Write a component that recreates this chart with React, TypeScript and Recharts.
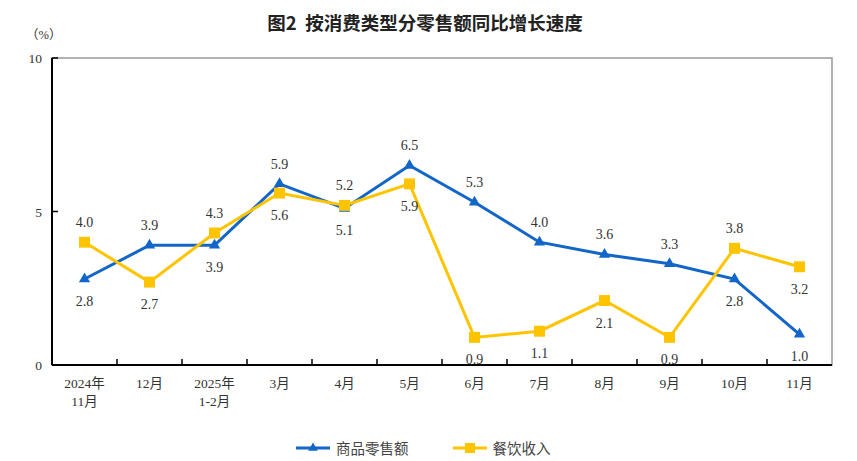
import { LineChart, Line, XAxis, YAxis, ReferenceArea, LabelList, Symbols } from "recharts";

const months = ["2024年\n11月", "12月", "2025年\n1-2月", "3月", "4月", "5月", "6月", "7月", "8月", "9月", "10月", "11月"];
const goods = [2.8, 3.9, 3.9, 5.9, 5.1, 6.5, 5.3, 4.0, 3.6, 3.3, 2.8, 1.0];
const catering = [4.0, 2.7, 4.3, 5.6, 5.2, 5.9, 0.9, 1.1, 2.1, 0.9, 3.8, 3.2];
const yTicks = [0, 5, 10];

const BLUE = "#1266c8";
const YELLOW = "#ffc400";
const SERIF = "'Liberation Serif', 'Times New Roman', 'Noto Sans CJK SC', serif";
const TEXT = "#333";

const data = months.map((m, i) => ({ month: m, goods: goods[i], catering: catering[i] }));

function XTick(props: any) {
  const { x, y, payload, width, visibleTicksCount } = props;
  const lines = String(payload.value).split("\n");
  const last = payload.index === months.length - 1;
  const half = Number(width) / Number(visibleTicksCount || months.length) / 2;
  return (
    <g>
      {!last && Number.isFinite(half) && (
        <line x1={x + half} x2={x + half} y1={y} y2={y - 6} stroke="#000" strokeWidth={1.5} />
      )}
      {lines.map((l, k) => (
        <text key={k} x={x} y={y + 23 + k * 18} textAnchor="middle" fontSize={13.5} fontFamily={SERIF} fill={TEXT}>
          {l}
        </text>
      ))}
    </g>
  );
}

function YTick(props: any) {
  const { x, y, payload } = props;
  return (
    <g>
      <line x1={x} x2={x + 6} y1={y} y2={y} stroke="#000" strokeWidth={1.5} />
      <text x={x - 10} y={y + 5} textAnchor="end" fontSize={13.5} fontFamily={SERIF} fill={TEXT}>
        {payload.value}
      </text>
    </g>
  );
}

function makeLabel(own: number[], other: number[]) {
  return (props: any) => {
    const { x, y, index, value } = props;
    const last = index === own.length - 1;
    const above = !last && own[index] >= other[index];
    return (
      <text
        x={x}
        y={above ? y - 15 : y + 27}
        textAnchor="middle"
        fontSize={14}
        fontFamily={SERIF}
        fill={TEXT}
      >
        {Number(value).toFixed(1)}
      </text>
    );
  };
}

const triDot = (p: any) => <Symbols key={p.index} cx={p.cx} cy={p.cy} type="triangle" size={55} fill={BLUE} />;
const sqDot = (p: any) => <Symbols key={p.index} cx={p.cx} cy={p.cy} type="square" size={120} fill={YELLOW} />;

export default function App() {
  return (
    <div style={{ position: "absolute", left: 0, top: 0, width: 857, height: 461, background: "#fff" }}>
      <div
        style={{
          position: "absolute",
          top: 9,
          left: 0,
          width: 850,
          textAlign: "center",
          fontFamily: "'Noto Sans CJK SC', sans-serif",
          fontWeight: 700,
          fontSize: 18.5,
          color: "#222",
          whiteSpace: "pre",
        }}
      >
        {"图2  按消费类型分零售额同比增长速度"}
      </div>
      <div style={{ position: "absolute", top: 24, left: 26, fontFamily: SERIF, fontSize: 12.5, color: TEXT }}>（%）</div>
      <LineChart width={857} height={461} data={data} margin={{ top: 58, right: 25, left: 12, bottom: 36 }}>
        <ReferenceArea y1={0} y2={10} fill="none" stroke="#999" strokeWidth={1.5} ifOverflow="visible" />
        <XAxis
          dataKey="month"
          scale="band"
          interval={0}
          height={60}
          tickLine={false}
          tickSize={0}
          tickMargin={0}
          axisLine={{ stroke: "#000", strokeWidth: 2 }}
          tick={<XTick />}
        />
        <YAxis
          domain={[0, 10]}
          ticks={yTicks}
          width={40}
          tickLine={false}
          tickSize={0}
          tickMargin={0}
          axisLine={{ stroke: "#000", strokeWidth: 2 }}
          tick={<YTick />}
        />
        <Line
          dataKey="goods"
          stroke={BLUE}
          strokeWidth={3}
          dot={triDot}
          activeDot={false}
          isAnimationActive={false}
        >
          <LabelList dataKey="goods" content={makeLabel(goods, catering)} />
        </Line>
        <Line
          dataKey="catering"
          stroke={YELLOW}
          strokeWidth={3}
          dot={sqDot}
          activeDot={false}
          isAnimationActive={false}
        >
          <LabelList dataKey="catering" content={makeLabel(catering, goods)} />
        </Line>
      </LineChart>
      <div
        style={{
          position: "absolute",
          top: 437,
          left: 296,
          display: "flex",
          alignItems: "center",
          fontFamily: "'Noto Sans CJK SC', serif",
          fontSize: 14.5,
          color: "#444",
        }}
      >
        <svg width={36} height={14}>
          <line x1={0} x2={34} y1={7} y2={7} stroke={BLUE} strokeWidth={3} />
          <Symbols cx={17} cy={7} type="triangle" size={40} fill={BLUE} />
        </svg>
        <span style={{ marginLeft: 4, marginRight: 44 }}>商品零售额</span>
        <svg width={36} height={14}>
          <line x1={0} x2={34} y1={7} y2={7} stroke={YELLOW} strokeWidth={3} />
          <Symbols cx={17} cy={7} type="square" size={100} fill={YELLOW} />
        </svg>
        <span style={{ marginLeft: 4 }}>餐饮收入</span>
      </div>
    </div>
  );
}
